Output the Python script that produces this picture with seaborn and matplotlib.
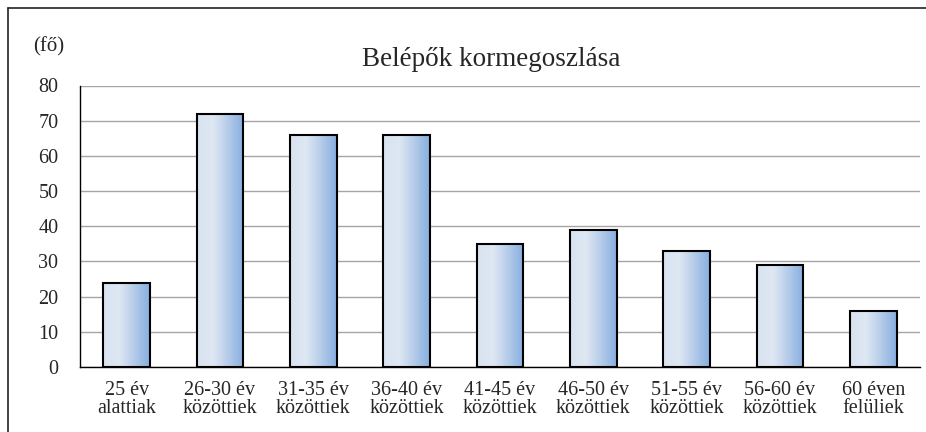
import numpy as np
import pandas as pd
import matplotlib.pyplot as plt
import seaborn as sns
from matplotlib.colors import LinearSegmentedColormap
from matplotlib.lines import Line2D

categories = ["25 év\nalattiak", "26-30 év\nközöttiek", "31-35 év\nközöttiek",
              "36-40 év\nközöttiek", "41-45 év\nközöttiek", "46-50 év\nközöttiek",
              "51-55 év\nközöttiek", "56-60 év\nközöttiek", "60 éven\nfelüliek"]
values = [24, 72, 66, 66, 35, 39, 33, 29, 16]
y_ticks = [0, 10, 20, 30, 40, 50, 60, 70, 80]

sns.set_style("white")
plt.rcParams['font.family'] = ['Liberation Serif', 'DejaVu Serif']

df = pd.DataFrame({"kat": categories, "fo": values})

fig = plt.figure(figsize=(9.26, 4.32), dpi=100)
ax = fig.add_axes([80 / 926, 1 - 367 / 432, 840 / 926, (367 - 85.5) / 432])

sns.barplot(data=df, x="kat", y="fo", ax=ax, width=0.5, color="#dce6f2",
            edgecolor="black", linewidth=1.5, zorder=3)

# gradient fill inside each bar
cmap = LinearSegmentedColormap.from_list(
    "bar", [(0.0, "#d8e3f0"), (0.35, "#dee8f3"), (0.5, "#cbdaee"), (1.0, "#86aedf")])
grad = np.linspace(0, 1, 256).reshape(1, -1)
for p in ax.patches:
    x0, y0 = p.get_x(), p.get_y()
    w, h = p.get_width(), p.get_height()
    im = ax.imshow(grad, extent=[x0, x0 + w, y0, y0 + h], aspect="auto",
                   cmap=cmap, zorder=2.5, origin="lower")
    im.set_clip_path(p)
    p.set_facecolor("none")

ax.set_xlim(-0.5, len(categories) - 0.5)
ax.set_ylim(0, 80)
ax.set_yticks(y_ticks)
ax.yaxis.grid(True, color="#a6a6a6", linewidth=1.0, zorder=0)
ax.set_axisbelow(True)

for s in ["top", "right"]:
    ax.spines[s].set_visible(False)
for s in ["left", "bottom"]:
    ax.spines[s].set_color("black")
    ax.spines[s].set_linewidth(1.0)

ax.set_xlabel("")
ax.set_ylabel("")
ax.set_xticks(np.arange(-0.5, len(categories), 1.0), minor=True)
ax.tick_params(axis="x", which="major", length=0, labelsize=14.5, pad=10)
ax.tick_params(axis="x", which="minor", length=6, width=1, color="black", direction="out")
ax.tick_params(axis="y", length=7, width=1, color="black", direction="inout", labelsize=14.5, pad=12)
for lbl in ax.get_xticklabels():
    lbl.set_linespacing(0.95)

fig.text(491 / 926, 1 - 60 / 432, "Belépők kormegoszlása", fontsize=19.5,
         ha="center", va="center")
fig.text(49 / 926, 1 - 47 / 432, "(fő)", fontsize=15, ha="center", va="center")

# outer frame (left and top edges)
fig.add_artist(Line2D([8 / 926, 8 / 926], [0, 1 - 8 / 432], transform=fig.transFigure,
                      color="#222222", linewidth=1.2))
fig.add_artist(Line2D([8 / 926, 1], [1 - 8 / 432, 1 - 8 / 432], transform=fig.transFigure,
                      color="#222222", linewidth=1.2))

fig.savefig("out.png", dpi=100)
